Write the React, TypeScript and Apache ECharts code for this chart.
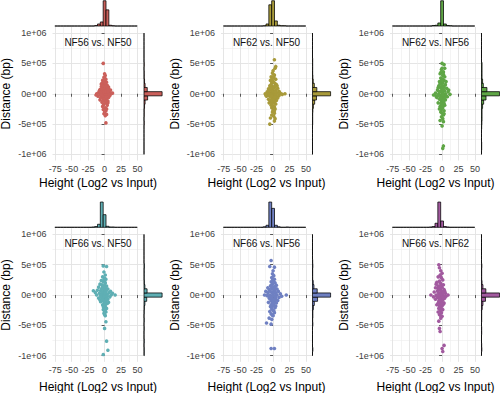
import React, { useEffect, useRef } from "react";
import * as echarts from "echarts";

const FONT = "'Liberation Sans', Arial, Helvetica, sans-serif";

// ---------- data ----------
const PANEL_TITLES = ["NF56 vs. NF50", "NF62 vs. NF50", "NF62 vs. NF56", "NF66 vs. NF50", "NF66 vs. NF56", "NF66 vs. NF62"];
const PANEL_COLORS = ["#CB605B", "#A89A3A", "#5FA646", "#5FAFB4", "#6F80C2", "#A25A9F"];
const X_TITLE = "Height (Log2 vs Input)";
const Y_TITLE = "Distance (bp)";
const X_TICKS = [-75, -50, -25, 0, 25, 50];
const X_MINOR_TICKS = [-62.5, -37.5, -12.5, 12.5, 37.5];
const Y_TICKS = [-1000000, -500000, 0, 500000, 1000000];
const Y_TICK_LABELS = ["-1e+06", "-5e+05", "0e+00", "5e+05", "1e+06"];
const Y_MINOR_TICKS = [-750000, -250000, 250000, 750000];
const X_LIMITS = [-79, 59];
const Y_LIMITS = [-1100000, 1100000];

// marginal histogram bins (bin centre = index * width)
const X_BIN_WIDTH = 125 / 29;
const Y_BIN_WIDTH = 2000000 / 29;
const X_BIN_INDEX = [-17, -16, -15, -14, -13, -12, -11, -10, -9, -8, -7, -6, -5, -4, -3, -2, -1, 0, 1, 2, 3, 4, 5, 6, 7, 8, 9, 10, 11];
const Y_BIN_INDEX = [-14, -13, -12, -11, -10, -9, -8, -7, -6, -5, -4, -3, -2, -1, 0, 1, 2, 3, 4, 5, 6, 7, 8, 9, 10, 11, 12, 13, 14];

const TOP_HIST_1 = [0, 0, 0, 0, 0, 0, 0, 0, 0, 0, 0, 0, 0, 0, 2, 8, 16, 100, 64, 3, 1, 0, 0, 0, 0, 0, 0, 0, 0];
const TOP_HIST_2 = [0, 0, 0, 0, 0, 0, 0, 0, 0, 0, 0, 0, 0, 0, 1, 8, 84, 100, 20, 3, 1, 1, 0, 0, 0, 0, 0, 0, 0];
const TOP_HIST_3 = [0, 0, 0, 0, 0, 0, 0, 0, 0, 0, 0, 0, 0, 0, 2, 3, 12, 100, 8, 2, 1, 0, 0, 0, 0, 0, 0, 0, 0];
const TOP_HIST_4 = [0, 0, 0, 0, 0, 0, 0, 0, 0, 0, 0, 0, 0, 1, 3, 12, 100, 50, 4, 1, 1, 0, 0, 0, 0, 0, 0, 0, 0];
const TOP_HIST_5 = [0, 0, 0, 0, 0, 0, 0, 0, 0, 0, 0, 0, 0, 0, 2, 8, 100, 75, 8, 2, 0, 0, 1, 0, 0, 0, 0, 0, 0];
const TOP_HIST_6 = [0, 0, 0, 0, 0, 0, 0, 0, 0, 0, 0, 0, 0, 1, 3, 16, 100, 25, 3, 1, 0, 0, 0, 0, 0, 0, 0, 0, 0];

const RIGHT_HIST_1 = [0, 0, 0, 0, 0, 0, 0, 1, 0, 1, 1, 3, 6, 20, 100, 18, 6, 3, 1, 1, 0, 1, 0, 0, 0, 0, 0, 0, 0];
const RIGHT_HIST_2 = [0, 0, 0, 0, 0, 0, 0, 1, 1, 1, 2, 5, 12, 22, 100, 24, 10, 4, 2, 1, 1, 1, 1, 0, 0, 0, 0, 0, 0];
const RIGHT_HIST_3 = [0, 1, 1, 0, 0, 0, 1, 2, 3, 3, 3, 6, 12, 25, 100, 30, 10, 6, 3, 3, 3, 3, 0, 0, 0, 0, 0, 0, 0];
const RIGHT_HIST_4 = [1, 1, 0, 1, 0, 0, 1, 0, 1, 0, 1, 2, 5, 15, 100, 17, 5, 2, 1, 1, 1, 2, 0, 0, 0, 0, 0, 0, 0];
const RIGHT_HIST_5 = [0, 2, 0, 0, 0, 0, 0, 2, 1, 2, 2, 5, 10, 28, 100, 26, 8, 4, 1, 1, 1, 2, 1, 0, 0, 0, 0, 0, 0];
const RIGHT_HIST_6 = [0, 2, 1, 0, 0, 1, 1, 0, 1, 1, 1, 4, 8, 22, 100, 24, 8, 3, 1, 1, 1, 2, 0, 0, 0, 0, 0, 0, 0];

// scatter points: [height (log2 vs input), distance (bp)]
const POINTS_1 = [
  [-2, 500000], [0, 330000], [1, 300000], [-1, 270000], [2, 240000], [-3, 220000], [0, 210000], [3, 190000],
  [-4, 170000], [-1, 160000], [1, 150000], [4, 140000], [-5, 120000], [-2, 110000], [2, 100000], [6, 90000],
  [-7, 70000], [-3, 60000], [0, 60000], [3, 50000], [8, 40000], [-9, 20000], [-5, 20000], [-1, 10000],
  [2, 10000], [5, 0], [10, 0], [-12, 0], [-7, -10000], [-3, -10000], [0, -20000], [4, -20000],
  [8, -30000], [-10, -40000], [-5, -50000], [1, -50000], [6, -60000], [-2, -80000], [3, -90000], [-7, -100000],
  [0, -110000], [5, -120000], [-4, -140000], [2, -150000], [-1, -170000], [4, -190000], [-3, -210000], [1, -230000],
  [-2, -260000], [2, -280000], [0, -300000], [-1, -330000], [3, -340000], [1, -360000], [2, -480000], [-6, 30000],
  [7, -10000], [-8, 50000], [12, 10000], [-13, -20000], [9, 60000], [-6, -70000], [6, 110000], [-5, 160000], [5, -150000],
  [-1, 40000], [1, 30000], [-2, -40000], [2, -60000], [0, 90000], [-3, 130000], [3, 120000], [1, 180000],
  [-1, -90000], [1, -130000], [-2, -190000], [3, -250000], [-4, 80000], [4, 70000], [-3, -120000], [0, 260000],
  [-1, 200000], [2, 40000], [-5, -20000], [5, 40000],
];
const POINTS_2 = [
  [2, 560000], [4, 450000], [3, 420000], [0, 380000], [-1, 340000], [2, 310000], [-3, 280000], [1, 260000],
  [4, 240000], [-4, 220000], [0, 200000], [-2, 180000], [3, 170000], [5, 150000], [-5, 130000], [-1, 120000],
  [2, 110000], [7, 90000], [-7, 80000], [-3, 70000], [0, 60000], [4, 50000], [9, 40000], [-9, 30000],
  [-5, 20000], [-1, 20000], [2, 10000], [6, 10000], [-12, 0], [12, 0], [18, 0], [-8, -10000],
  [-3, -10000], [0, -20000], [4, -20000], [9, -30000], [-10, -40000], [-5, -40000], [1, -50000], [6, -50000],
  [-2, -70000], [3, -80000], [-7, -90000], [0, -100000], [5, -110000], [-4, -130000], [2, -140000], [-1, -160000],
  [4, -170000], [-3, -190000], [1, -210000], [-2, -230000], [3, -250000], [0, -270000], [-1, -300000], [2, -320000],
  [-2, -350000], [1, -370000], [-4, -400000], [3, -410000], [-5, -500000], [2, -450000], [-6, 50000], [7, -70000],
  [10, 20000], [-11, -20000], [6, 130000], [-6, -150000], [14, -10000],
  [-1, 40000], [1, 30000], [-2, -40000], [2, -60000], [0, 90000], [-3, 150000], [3, 130000], [1, 190000],
  [-1, -90000], [1, -120000], [-2, -170000], [2, -220000], [-4, 90000], [5, 70000], [-3, -110000], [1, 290000],
  [-2, 240000], [3, 30000], [-6, -10000], [2, -280000],
];
const POINTS_3 = [
  [0, 500000], [3, 480000], [4, 420000], [-1, 400000], [2, 360000], [-3, 330000], [1, 300000], [4, 280000],
  [-2, 260000], [0, 240000], [3, 220000], [-4, 200000], [1, 180000], [-1, 160000], [5, 150000], [-5, 130000],
  [2, 120000], [-2, 100000], [7, 90000], [0, 80000], [-7, 60000], [4, 50000], [-3, 40000], [9, 30000],
  [1, 20000], [-10, 10000], [-5, 0], [5, 0], [12, -10000], [0, -10000], [-13, -20000], [-2, -30000],
  [3, -40000], [8, -50000], [-8, -60000], [1, -70000], [-4, -90000], [5, -100000], [-1, -120000], [2, -140000],
  [-6, -150000], [0, -170000], [4, -190000], [-3, -210000], [1, -230000], [-1, -260000], [3, -280000], [-2, -300000],
  [0, -320000], [2, -350000], [-1, -380000], [1, -410000], [-3, -440000], [2, -460000], [0, -530000], [2, -860000],
  [1, -900000], [-6, 100000], [6, -30000], [-9, -40000], [10, 60000], [6, 200000], [-4, -250000], [3, -330000], [-2, 350000],
  [-1, 50000], [1, -20000], [-2, -60000], [2, 60000], [0, 140000], [-3, 170000], [3, 110000], [1, 240000],
  [-1, -80000], [2, -110000], [-2, -160000], [1, -200000], [-4, 30000], [4, -70000], [0, -240000], [2, 320000],
  [-1, 220000], [3, -160000], [-6, -30000], [0, 420000],
];
const POINTS_4 = [
  [-2, 480000], [3, 470000], [-1, 380000], [1, 330000], [-3, 300000], [0, 280000], [2, 260000], [-5, 240000],
  [-2, 220000], [1, 200000], [-7, 180000], [-4, 170000], [0, 160000], [3, 150000], [-9, 130000], [-2, 120000],
  [5, 100000], [-17, 70000], [-11, 80000], [-6, 70000], [-1, 60000], [2, 50000], [7, 40000], [-8, 30000],
  [-3, 20000], [1, 10000], [4, 10000], [10, 0], [16, 0], [-12, 0], [-6, -10000], [-1, -20000],
  [3, -30000], [8, -30000], [-9, -50000], [-4, -50000], [0, -60000], [5, -70000], [-2, -90000], [2, -100000],
  [-6, -110000], [0, -130000], [4, -140000], [-3, -160000], [1, -180000], [-1, -200000], [3, -220000], [-2, -240000],
  [0, -260000], [2, -280000], [-1, -300000], [1, -340000], [2, -440000], [0, -550000], [3, -760000], [5, -910000],
  [-2, -980000], [-5, 90000], [6, -120000], [12, 30000], [-14, 40000], [9, 60000], [-7, -80000],
  [-1, 30000], [1, 40000], [-2, -30000], [2, -60000], [0, 90000], [-3, 140000], [2, 120000], [0, 220000],
  [-1, -110000], [1, -150000], [-2, -190000], [1, -240000], [-4, 50000], [4, -20000], [-3, -80000], [-1, 250000],
  [-4, 110000], [3, 80000], [-5, -30000], [0, -320000],
];
const POINTS_5 = [
  [-3, 570000], [-5, 470000], [2, 460000], [0, 400000], [-1, 350000], [1, 320000], [-2, 290000], [2, 260000],
  [0, 240000], [-3, 220000], [3, 200000], [-1, 180000], [5, 160000], [-4, 150000], [1, 130000], [-2, 110000],
  [6, 100000], [-6, 90000], [2, 80000], [8, 60000], [-1, 50000], [-8, 40000], [4, 30000], [11, 20000],
  [0, 10000], [-13, 0], [20, 0], [-5, 0], [6, 0], [-9, -10000], [2, -20000], [-2, -30000],
  [9, -40000], [-6, -50000], [4, -60000], [0, -70000], [-3, -90000], [2, -110000], [-7, -120000], [5, -130000],
  [-1, -150000], [1, -170000], [-4, -190000], [3, -210000], [-2, -230000], [0, -250000], [-5, -270000], [2, -290000],
  [-3, -310000], [0, -340000], [-6, -380000], [-2, -400000], [-10, -460000], [-3, -480000], [-3, -880000], [2, -880000],
  [-8, 120000], [7, -90000], [13, -20000], [-11, 60000], [-4, -60000], [3, 140000], [4, -180000],
  [-1, 30000], [1, 40000], [-2, -50000], [2, -80000], [0, 100000], [-3, 160000], [3, 110000], [1, 210000],
  [-1, -120000], [1, -140000], [-2, -200000], [1, -260000], [-4, 60000], [4, -30000], [-3, -160000], [-1, 270000],
  [-2, 140000], [3, 60000], [-6, -20000], [-1, -330000],
];
const POINTS_6 = [
  [-5, 500000], [-4, 450000], [-2, 400000], [0, 360000], [-3, 330000], [-6, 300000], [-1, 280000], [1, 250000],
  [-4, 230000], [-8, 210000], [-2, 190000], [2, 170000], [-6, 150000], [0, 130000], [-10, 120000], [-3, 100000],
  [3, 90000], [-7, 70000], [-1, 60000], [-12, 50000], [1, 40000], [5, 30000], [-5, 20000], [-2, 10000],
  [-17, 0], [9, 0], [-9, 0], [2, -10000], [-4, -20000], [0, -30000], [-7, -40000], [4, -50000],
  [-2, -60000], [-10, -70000], [1, -80000], [-5, -100000], [-1, -110000], [3, -130000], [-3, -150000], [-8, -160000],
  [0, -180000], [-2, -200000], [-5, -220000], [1, -240000], [-3, -260000], [-1, -290000], [-4, -320000], [0, -350000],
  [-2, -380000], [-5, -430000], [-4, -550000], [-3, -600000], [3, -830000], [0, -880000], [1, -930000], [-6, 110000],
  [6, -20000], [-13, -30000], [4, 60000], [-9, 180000], [2, -150000], [-6, -280000],
  [-3, 30000], [-1, 20000], [-4, -60000], [0, -90000], [-2, 80000], [-5, 140000], [-1, 160000], [-3, 200000],
  [-3, -100000], [-1, -140000], [-4, -180000], [-2, -240000], [-6, 50000], [1, -40000], [-6, -130000], [-2, 300000],
  [-4, 110000], [2, 40000], [-8, -20000], [-3, -330000],
];

const PANEL_POINTS = [POINTS_1, POINTS_2, POINTS_3, POINTS_4, POINTS_5, POINTS_6];
const PANEL_TOP_HIST = [TOP_HIST_1, TOP_HIST_2, TOP_HIST_3, TOP_HIST_4, TOP_HIST_5, TOP_HIST_6];
const PANEL_RIGHT_HIST = [RIGHT_HIST_1, RIGHT_HIST_2, RIGHT_HIST_3, RIGHT_HIST_4, RIGHT_HIST_5, RIGHT_HIST_6];

// ---------- layout ----------
const COL_LEFT = [52.5, 221, 390];
const ROW_TOP = [27, 228.3];
const X_TITLE_GAP = [22.5, 25];
const PANEL_W = 91;
const PANEL_H = 133.5;
const TOP_H = 26.5;
const RIGHT_W = 19;
const HIST_MAX = 105;

function buildOption() {
  const grid: any[] = [];
  const xAxis: any[] = [];
  const yAxis: any[] = [];
  const series: any[] = [];
  const graphic: any[] = [];

  PANEL_TITLES.forEach((title, i) => {
    const row = Math.floor(i / 3);
    const L = COL_LEFT[i % 3];
    const T = ROW_TOP[row];
    const color = PANEL_COLORS[i];

    const gMain = grid.length;
    grid.push({ left: L, top: T, width: PANEL_W, height: PANEL_H, containLabel: false, outerBoundsMode: "none" });
    const gTop = grid.length;
    grid.push({ left: L, top: T - 1 - TOP_H, width: PANEL_W, height: TOP_H, containLabel: false, outerBoundsMode: "none" });
    const gRight = grid.length;
    grid.push({ left: L + PANEL_W + 0.5, top: T, width: RIGHT_W, height: PANEL_H, containLabel: false, outerBoundsMode: "none" });

    const xMain = xAxis.length;
    xAxis.push({
      type: "value", gridIndex: gMain, position: "bottom", min: X_LIMITS[0], max: X_LIMITS[1],
      axisLine: { show: false },
      axisTick: { show: true, length: 3, customValues: X_TICKS, lineStyle: { color: "#333333", width: 0.8 } },
      axisLabel: { show: true, customValues: X_TICKS, color: "#3d3d3d", fontSize: 9, fontFamily: FONT, margin: 4 },
      splitLine: { show: true, lineStyle: { color: "#e2e2e2", width: 0.9 } },
    });
    xAxis.push({
      type: "value", gridIndex: gMain, position: "top", min: X_LIMITS[0], max: X_LIMITS[1],
      axisLine: { show: false },
      axisTick: { show: false, customValues: X_MINOR_TICKS },
      axisLabel: { show: false, customValues: X_MINOR_TICKS },
      splitLine: { show: true, lineStyle: { color: "#ededed", width: 0.6 } },
    });
    const yMain = yAxis.length;
    yAxis.push({
      type: "value", gridIndex: gMain, position: "left", min: Y_LIMITS[0], max: Y_LIMITS[1],
      axisLine: { show: false },
      axisTick: { show: true, length: 3, customValues: Y_TICKS, lineStyle: { color: "#333333", width: 0.8 } },
      axisLabel: {
        show: true, customValues: Y_TICKS, color: "#3d3d3d", fontSize: 9, fontFamily: FONT, margin: 6,
        formatter: (v: number) => { const k = Y_TICKS.indexOf(v); return k >= 0 ? Y_TICK_LABELS[k] : ""; },
      },
      splitLine: { show: true, lineStyle: { color: "#e2e2e2", width: 0.9 } },
    });
    yAxis.push({
      type: "value", gridIndex: gMain, position: "right", min: Y_LIMITS[0], max: Y_LIMITS[1],
      axisLine: { show: false },
      axisTick: { show: false, customValues: Y_MINOR_TICKS },
      axisLabel: { show: false, customValues: Y_MINOR_TICKS },
      splitLine: { show: true, lineStyle: { color: "#ededed", width: 0.6 } },
    });

    const xTop = xAxis.length;
    xAxis.push({ type: "value", gridIndex: gTop, min: X_LIMITS[0], max: X_LIMITS[1], show: false });
    const yTop = yAxis.length;
    yAxis.push({ type: "value", gridIndex: gTop, min: 0, max: HIST_MAX, show: false });
    const xRight = xAxis.length;
    xAxis.push({ type: "value", gridIndex: gRight, min: 0, max: HIST_MAX, show: false });
    const yRight = yAxis.length;
    yAxis.push({ type: "value", gridIndex: gRight, min: Y_LIMITS[0], max: Y_LIMITS[1], show: false });

    series.push({
      type: "scatter", xAxisIndex: xMain, yAxisIndex: yMain, data: PANEL_POINTS[i],
      symbol: "circle", symbolSize: 3.6, itemStyle: { color, opacity: 1 }, silent: true, z: 3,
    });

    const topCounts = PANEL_TOP_HIST[i];
    series.push({
      type: "custom", xAxisIndex: xTop, yAxisIndex: yTop, silent: true,
      data: X_BIN_INDEX.map((k, j) => [k * X_BIN_WIDTH, topCounts[j]]),
      renderItem: (_p: any, api: any) => {
        const c = api.value(0) as number;
        const n = api.value(1) as number;
        const a = api.coord([c - X_BIN_WIDTH / 2, 0]);
        const b = api.coord([c + X_BIN_WIDTH / 2, n]);
        return {
          type: "rect",
          shape: { x: a[0], y: b[1], width: b[0] - a[0], height: a[1] - b[1] },
          style: { fill: color, stroke: "#000000", lineWidth: 0.75 },
        };
      },
    });

    const rightCounts = PANEL_RIGHT_HIST[i];
    series.push({
      type: "custom", xAxisIndex: xRight, yAxisIndex: yRight, silent: true,
      data: Y_BIN_INDEX.map((k, j) => [rightCounts[j], k * Y_BIN_WIDTH]),
      renderItem: (_p: any, api: any) => {
        const n = api.value(0) as number;
        const c = api.value(1) as number;
        const a = api.coord([0, c - Y_BIN_WIDTH / 2]);
        const b = api.coord([n, c + Y_BIN_WIDTH / 2]);
        return {
          type: "rect",
          shape: { x: a[0], y: b[1], width: b[0] - a[0], height: a[1] - b[1] },
          style: { fill: color, stroke: "#000000", lineWidth: 0.75 },
        };
      },
    });

    graphic.push({
      type: "text", x: L + PANEL_W / 2, y: T + 15, silent: true, z: 100,
      style: { text: title, fontSize: 10, fontFamily: FONT, fill: "#111111", align: "center", verticalAlign: "middle" },
    });
    graphic.push({
      type: "text", x: L + PANEL_W / 2, y: T + PANEL_H + X_TITLE_GAP[row], silent: true, z: 100,
      style: { text: X_TITLE, fontSize: 12, fontFamily: FONT, fill: "#000000", align: "center", verticalAlign: "middle" },
    });
    graphic.push({
      type: "text", x: L - 46.5, y: T + PANEL_H / 2, rotation: Math.PI / 2, silent: true, z: 100,
      style: { text: Y_TITLE, fontSize: 12, fontFamily: FONT, fill: "#000000", align: "center", verticalAlign: "middle" },
    });
  });

  return {
    animation: false,
    backgroundColor: "#ffffff",
    textStyle: { fontFamily: FONT },
    grid, xAxis, yAxis, series, graphic,
  };
}

export default function App() {
  const ref = useRef<HTMLDivElement>(null);
  useEffect(() => {
    if (!ref.current) return;
    const chart = echarts.init(ref.current, undefined, { renderer: "svg" });
    chart.setOption(buildOption() as any);
    return () => chart.dispose();
  }, []);
  return <div ref={ref} style={{ position: "fixed", left: 0, top: 0, width: 500, height: 393 }} />;
}
